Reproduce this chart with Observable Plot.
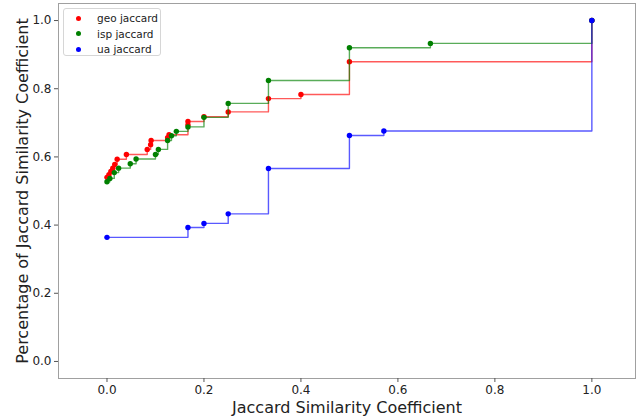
<!DOCTYPE html>
<html>
<head>
<meta charset="utf-8">
<script src="https://cdn.jsdelivr.net/npm/d3@7"></script>
<script src="https://cdn.jsdelivr.net/npm/@observablehq/plot@0.6"></script>
<style>
  html, body { margin: 0; padding: 0; background: white; }
  #wrap { position: relative; width: 642px; height: 417px; font-family: "DejaVu Sans", sans-serif; }
  #legend { position: absolute; left: 63px; top: 8px; width: 98px; height: 48px;
    border: 1px solid #d6d6d6; border-radius: 3px; background: rgba(255,255,255,0.85);
    box-sizing: border-box; font-size: 10.5px; color: #222; }
  .row { position: absolute; left: 0; height: 14px; line-height: 14px; }
  .dot { position: absolute; left: 12px; top: 4.5px; width: 5px; height: 5px; border-radius: 50%; }
  .lab { position: absolute; left: 33px; top: 0; white-space: nowrap; }
</style>
</head>
<body>
<div id="wrap">
  <div id="chart"></div>
  <div id="legend"></div>
</div>
<script>
// ---- data ----
const seriesNames = ["geo jaccard", "isp jaccard", "ua jaccard"];
const seriesColors = ["red", "green", "blue"];

const geoX = [0, 0.004, 0.008, 0.012, 0.016, 0.021, 0.040, 0.083, 0.090, 0.091, 0.125, 0.128, 0.167, 0.167, 0.2, 0.25, 0.333, 0.4, 0.5, 1.0];
const geoY = [0.540, 0.548, 0.557, 0.567, 0.578, 0.593, 0.607, 0.622, 0.636, 0.648, 0.656, 0.665, 0.694, 0.704, 0.718, 0.732, 0.771, 0.783, 0.879, 1.0];

const ispX = [0, 0.006, 0.015, 0.024, 0.048, 0.060, 0.100, 0.106, 0.125, 0.133, 0.143, 0.167, 0.2, 0.25, 0.333, 0.5, 0.667, 1.0];
const ispY = [0.527, 0.537, 0.554, 0.567, 0.580, 0.594, 0.607, 0.622, 0.648, 0.662, 0.675, 0.688, 0.716, 0.757, 0.824, 0.920, 0.933, 1.0];

const uaX = [0, 0.167, 0.2, 0.25, 0.333, 0.5, 0.571, 1.0];
const uaY = [0.364, 0.393, 0.405, 0.433, 0.566, 0.663, 0.676, 1.0];

const xTicks = [0, 0.2, 0.4, 0.6, 0.8, 1.0];
const yTicks = [0, 0.2, 0.4, 0.6, 0.8, 1.0];
const xLabel = "Jaccard Similarity Coefficient";
const yLabel = "Percentage of Jaccard Similarity Coefficient";

// ---- build tables ----
const seriesXY = [[geoX, geoY], [ispX, ispY], [uaX, uaY]];
const tables = seriesXY.map(([xs, ys], i) => xs.map((x, j) => ({x, y: ys[j], s: seriesNames[i]})));

const fmt = d3.format(".1f");
const marks = [
  Plot.frame({stroke: "#a0a0a0", strokeWidth: 1}),
  Plot.axisX({ticks: xTicks, tickFormat: fmt, tickSize: 4, tickPadding: 3, fontSize: 12, label: null, stroke: "#555"}),
  Plot.axisY({ticks: yTicks, tickFormat: fmt, tickSize: 4, tickPadding: 3, fontSize: 12, label: null, stroke: "#555"})
];
tables.forEach((t, i) => {
  marks.push(Plot.line(t, {x: "x", y: "y", curve: "step-after", stroke: seriesColors[i], strokeOpacity: 0.65, strokeWidth: 1.4}));
  marks.push(Plot.dot(t, {x: "x", y: "y", fill: seriesColors[i], r: 2.7, stroke: "none"}));
});
marks.push(Plot.text([xLabel], {frameAnchor: "bottom", dy: 29, text: d => d, fontSize: 16, textAnchor: "middle", lineAnchor: "middle", fill: "#222"}));
marks.push(Plot.text([yLabel], {frameAnchor: "left", dx: -36, rotate: -90, text: d => d, fontSize: 16, textAnchor: "middle", lineAnchor: "middle", fill: "#222"}));

const chart = Plot.plot({
  width: 642, height: 417,
  marginLeft: 58, marginRight: 7, marginTop: 3, marginBottom: 39,
  x: {domain: [-0.1, 1.09]},
  y: {domain: [-0.05, 1.05]},
  style: {fontFamily: "DejaVu Sans, sans-serif", color: "#222", background: "white"},
  marks
});
document.getElementById("chart").appendChild(chart);

// ---- legend ----
const legend = document.getElementById("legend");
seriesNames.forEach((name, i) => {
  const row = document.createElement("div");
  row.className = "row";
  row.style.top = (2 + i * 15.5) + "px";
  row.innerHTML = `<span class="dot" style="background:${seriesColors[i]}"></span><span class="lab">${name}</span>`;
  legend.appendChild(row);
});
</script>
</body>
</html>
